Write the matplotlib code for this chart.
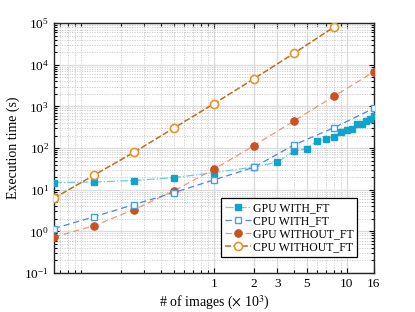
import matplotlib
matplotlib.use("Agg")
import matplotlib.pyplot as plt
import numpy as np
from matplotlib.ticker import FixedLocator, NullFormatter, LogLocator, LogFormatterMathtext

plt.rcParams['font.family'] = ['Liberation Serif', 'DejaVu Serif']
plt.rcParams['mathtext.fontset'] = 'stix'

# data (x in thousands of images, y in seconds)
x_pow2 = [1/16, 1/8, 1/4, 1/2, 1, 2, 4, 8, 16]
gpu_ft_x = [1/16, 1/8, 1/4, 1/2, 1, 2, 3, 4, 5, 6, 7, 8, 9, 10, 11, 12, 13, 14, 15, 16]
gpu_ft_y = [14.8, 15.3, 16.6, 19.5, 25.7, 35, 46, 84, 97, 151, 165, 188, 248, 267, 283, 385, 372, 440, 499, 578]
cpu_ft_y = [1.17, 2.23, 4.4, 8.5, 17.2, 34.6, 119, 308, 900]
gpu_noft_y = [0.73, 1.36, 3.33, 9.4, 31, 114, 447, 1746, 6790]
cpu_noft_x = [1/16, 1/8, 1/4, 1/2, 1, 2, 4, 8]
cpu_noft_y = [6.25, 22.3, 79, 303, 1160, 4610, 18760, 80200]

xticks = [1, 2, 3, 5, 10, 16]
xticklabels = ['1', '2', '3', '5', '10', '16']
labels = ['GPU WITH_FT', 'CPU WITH_FT', 'GPU WITHOUT_FT', 'CPU WITHOUT_FT']

fig = plt.figure(figsize=(4.15, 3.12), dpi=100)
ax = fig.add_axes([0.130, 0.125, 0.771, 0.801])

ax.plot(gpu_ft_x, gpu_ft_y, linestyle='-.', color='#6ccbe3', lw=0.9,
        marker='s', ms=4, mfc='#10a3cc', mec='#10a3cc', label=labels[0], zorder=3)
ax.plot(x_pow2, cpu_ft_y, linestyle=(0, (5, 3)), color='#4f86d8', lw=0.9,
        marker='s', ms=4.2, mfc='white', mec='#3aa2ef', mew=1.0, label=labels[1], zorder=4)
ax.plot(x_pow2, gpu_noft_y, linestyle=(0, (5, 3)), color='#e39b78', lw=0.9,
        marker='o', ms=5.2, mfc='#cb5120', mec='#cb5120', label=labels[2], zorder=3)
ax.plot(cpu_noft_x, cpu_noft_y, linestyle=(0, (4, 1.5)), color='#c46a1c', lw=1.1,
        marker='o', ms=5.8, mfc='white', mec='#e8951f', mew=1.2, label=labels[3], zorder=4)

ax.set_xscale('log')
ax.set_yscale('log')
ax.set_xlim(1/16, 16)
ax.set_ylim(1e-1, 1e5)

ax.xaxis.set_major_locator(FixedLocator(xticks))
ax.set_xticklabels(xticklabels)
minors = []
for d in [0.01, 0.1, 1, 10]:
    for m in range(1, 10):
        v = m * d
        if 1/16 <= v <= 16 and not any(abs(v - t) < 1e-9 for t in xticks):
            minors.append(v)
ax.xaxis.set_minor_locator(FixedLocator(minors))
ax.xaxis.set_minor_formatter(NullFormatter())

ax.yaxis.set_major_locator(LogLocator(base=10, numticks=10))
ax.yaxis.set_major_formatter(LogFormatterMathtext())
ax.yaxis.set_minor_locator(LogLocator(base=10, subs=np.arange(2, 10), numticks=20))
ax.yaxis.set_minor_formatter(NullFormatter())
ax.xaxis.get_offset_text().set_visible(False)
ax.yaxis.get_offset_text().set_visible(False)

ax.grid(True, which='major', color='#dcdcdc', lw=1.0, linestyle='-')
ax.grid(True, which='minor', color='#c8c8c8', lw=0.6, linestyle=(0, (1.5, 1.5)))
ax.set_axisbelow(True)

ax.tick_params(which='both', direction='in', top=True, right=True, labelsize=9.5, width=0.8)
ax.tick_params(which='major', length=3.5)
ax.tick_params(which='minor', length=2)
for s in ax.spines.values():
    s.set_linewidth(1.0)
    s.set_color('#262626')

ax.set_xlabel(r'# of images ($\times$ 10$^3$)', fontsize=10, labelpad=3)
ax.set_ylabel('Execution time (s)', fontsize=10)
ax.yaxis.set_label_coords(-0.105, 0.5)

leg = ax.legend(loc='lower right', bbox_to_anchor=(0.955, 0.055), fontsize=8.5,
                frameon=True, fancybox=False, edgecolor='black', framealpha=1,
                handlelength=2.2, handletextpad=0.2, borderpad=0.3, labelspacing=0.1,
                borderaxespad=0.2)
leg.get_frame().set_linewidth(0.9)

fig.savefig('out.png', dpi=100)
